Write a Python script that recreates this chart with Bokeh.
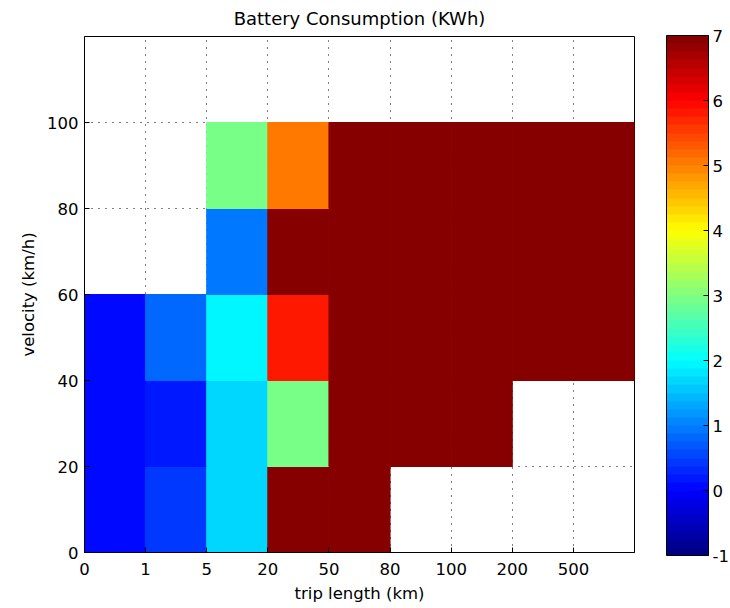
import math
from bokeh.plotting import figure
from bokeh.models import (ColumnDataSource, LinearColorMapper, ColorBar, FixedTicker, Range1d)
from bokeh.embed import file_html
from bokeh.resources import INLINE

# ---- data ----
trip_labels = ["0", "1", "5", "20", "50", "80", "100", "200", "500"]
velocity_edges = [0, 20, 40, 60, 80, 100]
nan = float("nan")
row_0_20   = [0.05, 0.45, 1.65, 7.0, 7.0, nan, nan, nan, nan]
row_20_40  = [0.05, 0.20, 1.65, 2.9, 7.0, 7.0, 7.0, nan, nan]
row_40_60  = [0.05, 0.75, 1.90, 5.85, 7.0, 7.0, 7.0, 7.0, 7.0]
row_60_80  = [nan, nan, 0.90, 7.0, 7.0, 7.0, 7.0, 7.0, 7.0]
row_80_100 = [nan, nan, 2.90, 5.0, 7.0, 7.0, 7.0, 7.0, 7.0]
rows = [row_0_20, row_20_40, row_40_60, row_60_80, row_80_100]
y_ticks = [0, 20, 40, 60, 80, 100]
cbar_ticks = [-1, 0, 1, 2, 3, 4, 5, 6, 7]
cbar_labels = ["-1", "0", "1", "2", "3", "4", "5", "6", "7"]

# ---- jet colormap (64 levels) ----
def jet(n=64):
    out = []
    for k in range(n):
        t = (k + 0.5) / n
        r = min(max(1.5 - abs(4 * t - 3), 0), 1)
        g = min(max(1.5 - abs(4 * t - 2), 0), 1)
        b = min(max(1.5 - abs(4 * t - 1), 0), 1)
        out.append("#%02x%02x%02x" % (int(round(r * 255)), int(round(g * 255)), int(round(b * 255))))
    return out

palette = jet(64)
mapper = LinearColorMapper(palette=palette, low=-1, high=7, high_color=palette[-1],
                           low_color=palette[0])

xs, ys, ws, hs, vs = [], [], [], [], []
for j, row in enumerate(rows):
    y0, y1 = velocity_edges[j], velocity_edges[j + 1]
    for i, v in enumerate(row):
        if math.isnan(v):
            continue
        xs.append(i + 0.5)
        ys.append((y0 + y1) / 2)
        ws.append(1)
        hs.append(y1 - y0)
        vs.append(v)
src = ColumnDataSource(dict(x=xs, y=ys, w=ws, h=hs, v=vs))

FONT = "DejaVu Sans"
FS = "16.5px"

p = figure(output_backend="svg", toolbar_location=None,
           frame_width=550, frame_height=516,
           x_range=Range1d(0, len(trip_labels)), y_range=Range1d(0, 120),
           title="Battery Consumption (KWh)",
           min_border_left=84, min_border_right=0, min_border_top=36, min_border_bottom=2)
p.title.align = "center"
p.title.text_font = FONT
p.title.text_font_size = "18px"
p.title.text_font_style = "normal"
p.title.text_color = "black"
p.title.vertical_align = "middle"
p.title.standoff = 13

cmap = {"field": "v", "transform": mapper}
p.rect(x="x", y="y", width="w", height="h", source=src,
       fill_color=cmap, line_color=cmap, line_width=1)

p.outline_line_color = "black"
p.outline_line_width = 1
p.outline_line_alpha = 1

p.xaxis.ticker = FixedTicker(ticks=list(range(len(trip_labels))))
p.xaxis.major_label_overrides = {i: s for i, s in enumerate(trip_labels)}
p.yaxis.ticker = FixedTicker(ticks=y_ticks)
p.xaxis.axis_label = "trip length (km)"
p.yaxis.axis_label = "velocity (km/h)"
for ax in (p.xaxis[0], p.yaxis[0]):
    ax.major_tick_in = 5
    ax.major_tick_out = 0
    ax.minor_tick_line_color = None
    ax.axis_line_color = "black"
    ax.major_tick_line_color = "black"
    ax.major_label_text_font = FONT
    ax.major_label_text_font_size = FS
    ax.major_label_text_color = "black"
    ax.axis_label_text_font = FONT
    ax.axis_label_text_font_size = FS
    ax.axis_label_text_font_style = "normal"
    ax.axis_label_text_color = "black"
p.xaxis.major_label_standoff = 10
p.yaxis.major_label_standoff = 6
p.xaxis.axis_label_standoff = 6
p.yaxis.axis_label_standoff = 6

p.xgrid.ticker = FixedTicker(ticks=list(range(1, len(trip_labels))))
p.ygrid.ticker = FixedTicker(ticks=y_ticks[1:])
for g in (p.xgrid[0], p.ygrid[0]):
    g.grid_line_color = "black"
    g.grid_line_dash = "1 6"
    g.grid_line_width = 1

cb = ColorBar(color_mapper=mapper, ticker=FixedTicker(ticks=cbar_ticks),
              major_label_overrides={t: s for t, s in zip(cbar_ticks, cbar_labels)},
              width=42, height=520, padding=0, margin=0,
              bar_line_color="black", major_tick_line_color="black",
              major_tick_in=5, major_tick_out=0,
              major_label_text_font=FONT, major_label_text_font_size=FS,
              major_label_text_color="black", label_standoff=4,
              location=(32, -3), background_fill_color=None, border_line_color=None)
p.add_layout(cb, "right")

open("out.html", "w").write(file_html(p, INLINE))
